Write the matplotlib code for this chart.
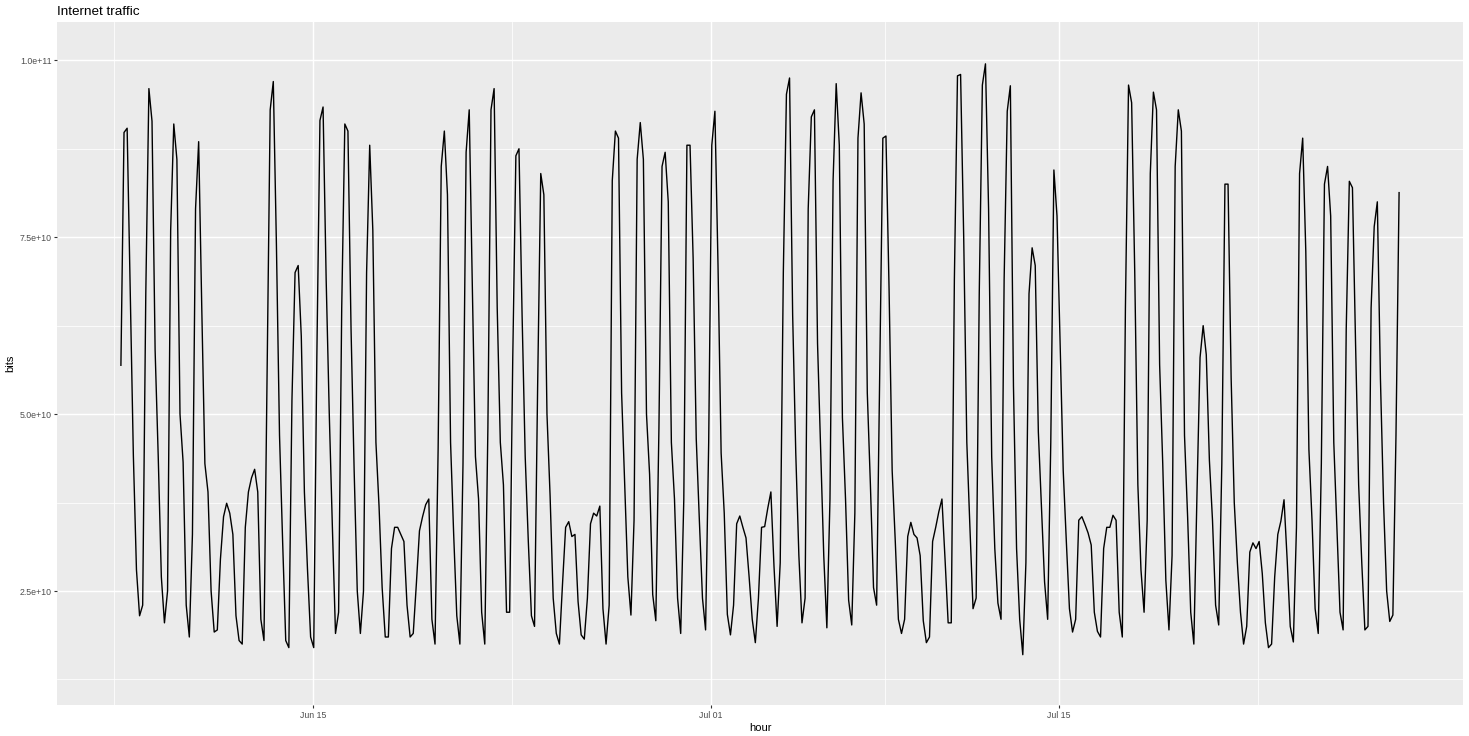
import numpy as np
import pandas as pd
import matplotlib
matplotlib.use("Agg")
import matplotlib.pyplot as plt
import matplotlib.dates as mdates
from matplotlib.ticker import FixedLocator, FuncFormatter

plt.rcParams['font.family'] = ['Liberation Sans', 'DejaVu Sans']

# traffic in units of 1e10 bits, one value every 3 hours from 2005-06-07 07:00
wk1 = [5.69, 8.98, 9.04, 6.7, 4.42, 2.8, 2.15, 2.3,
       6.7, 9.6, 9.14, 5.9, 4.4, 2.7, 2.05, 2.5,
       7.6, 9.1, 8.6, 5.0, 4.32, 2.3, 1.85, 3.3,
       7.9, 8.85, 6.5, 4.3, 3.9, 2.5, 1.92, 1.95,
       2.95, 3.55, 3.74, 3.6, 3.3, 2.15, 1.8, 1.75,
       3.4, 3.9, 4.1, 4.22, 3.9, 2.1, 1.8, 5.6,
       9.3, 9.7, 7.4, 4.7, 3.2, 1.8, 1.7, 5.2]
wk2 = [7.0, 7.1, 6.1, 3.9, 2.8, 1.85, 1.7, 5.8,
       9.15, 9.34, 6.9, 5.0, 3.4, 1.9, 2.2, 6.5,
       9.1, 9.0, 6.2, 4.2, 2.5, 1.9, 2.5, 7.0,
       8.8, 7.6, 4.6, 3.7, 2.55, 1.85, 1.85, 3.1,
       3.4, 3.4, 3.3, 3.2, 2.3, 1.85, 1.9, 2.6,
       3.35, 3.55, 3.72, 3.8, 2.1, 1.75, 4.5, 8.5,
       9.0, 8.1, 4.6, 3.3, 2.15, 1.75, 4.3, 8.7]
wk3 = [9.3, 6.8, 4.4, 3.8, 2.2, 1.75, 4.8, 9.3,
       9.6, 6.5, 4.6, 4.0, 2.2, 2.2, 5.8, 8.65,
       8.75, 6.4, 4.4, 3.2, 2.15, 2.0, 5.4, 8.4,
       8.1, 5.0, 3.85, 2.4, 1.9, 1.75, 2.6, 3.4,
       3.48, 3.27, 3.3, 2.35, 1.88, 1.82, 2.4, 3.45,
       3.6, 3.56, 3.7, 2.25, 1.75, 2.3, 8.3, 9.0,
       8.9, 5.3, 4.0, 2.7, 2.16, 3.5, 8.6, 9.12]
wk4 = [8.6, 5.0, 4.15, 2.45, 2.08, 4.8, 8.5, 8.7,
       8.0, 4.6, 3.8, 2.4, 1.9, 3.8, 8.8, 8.8,
       7.2, 4.65, 3.5, 2.4, 1.95, 4.6, 8.8, 9.28,
       7.1, 4.45, 3.6, 2.17, 1.88, 2.3, 3.45, 3.56,
       3.4, 3.25, 2.7, 2.1, 1.77, 2.4, 3.4, 3.41,
       3.67, 3.9, 2.85, 2.0, 2.9, 7.0, 9.52, 9.75,
       6.4, 4.45, 3.0, 2.05, 2.4, 7.9, 9.2, 9.3]
wk5 = [6.0, 4.5, 3.0, 1.98, 3.8, 8.3, 9.67, 8.8,
       4.95, 3.8, 2.37, 2.02, 3.6, 8.9, 9.54, 9.1,
       5.3, 4.0, 2.55, 2.3, 5.6, 8.9, 8.93, 6.77,
       4.2, 3.2, 2.1, 1.9, 2.1, 3.27, 3.47, 3.3,
       3.25, 3.0, 2.08, 1.77, 1.85, 3.2, 3.4, 3.62,
       3.8, 2.95, 2.05, 2.05, 6.9, 9.78, 9.8, 7.5,
       4.6, 3.4, 2.25, 2.4, 6.7, 9.65, 9.95, 7.9]
wk6 = [4.4, 3.1, 2.33, 2.1, 6.9, 9.28, 9.64, 5.4,
       3.1, 2.1, 1.6, 2.9, 6.7, 7.35, 7.1, 4.75,
       3.7, 2.63, 2.1, 4.6, 8.45, 7.8, 6.0, 4.2,
       3.2, 2.25, 1.92, 2.1, 3.5, 3.55, 3.44, 3.32,
       3.15, 2.2, 1.93, 1.85, 3.1, 3.4, 3.4, 3.57,
       3.5, 2.2, 1.85, 6.5, 9.65, 9.4, 7.0, 4.0,
       2.8, 2.2, 3.5, 8.4, 9.55, 9.3, 5.7, 4.3]
wk7 = [2.65, 1.95, 3.0, 8.5, 9.3, 9.0, 4.7, 3.55,
       2.2, 1.75, 3.85, 5.8, 6.25, 5.84, 4.35, 3.5,
       2.3, 2.02, 4.3, 8.25, 8.25, 5.5, 3.75, 2.9,
       2.2, 1.75, 2.0, 3.05, 3.18, 3.1, 3.2, 2.75,
       2.05, 1.7, 1.75, 2.7, 3.3, 3.49, 3.79, 2.95,
       2.0, 1.78, 3.4, 8.4, 8.9, 7.3, 4.5, 3.5,
       2.25, 1.9, 4.3, 8.25, 8.5, 7.8, 4.6, 3.4]
wk8 = [2.2, 1.95, 6.2, 8.29, 8.2, 6.0, 4.0, 2.9,
       1.95, 2.0, 6.5, 7.65, 8.0, 5.5, 3.75, 2.5,
       2.07, 2.16, 4.7, 8.13]

bits = np.array(wk1 + wk2 + wk3 + wk4 + wk5 + wk6 + wk7 + wk8) * 1e10
hour = pd.date_range("2005-06-07 07:00", periods=len(bits), freq="3h")

date_ticks = pd.to_datetime(["2005-06-15", "2005-07-01", "2005-07-15"])
date_minor = pd.to_datetime(["2005-06-07", "2005-06-23", "2005-07-08", "2005-07-23"])
bit_ticks = [2.5e10, 5.0e10, 7.5e10, 1.0e11]
bit_minor = [1.25e10, 3.75e10, 6.25e10, 8.75e10]

W, H = 1469, 736
fig = plt.figure(figsize=(W / 100, H / 100), dpi=100)
ax = fig.add_axes([57 / W, 1 - 705 / H, (1463 - 57) / W, (705 - 22.3) / H])
ax.set_facecolor("#EBEBEB")

ax.plot(hour, bits, color="black", lw=1.0)

# ggplot style 5% padding on x
pad = (hour[-1] - hour[0]) * 0.05
ax.set_xlim(hour[0] - pad, hour[-1] + pad)
ax.set_ylim(0.889e10, 10.537e10)

ax.xaxis.set_major_locator(FixedLocator(mdates.date2num(date_ticks)))
ax.xaxis.set_minor_locator(FixedLocator(mdates.date2num(date_minor)))
ax.xaxis.set_major_formatter(mdates.DateFormatter("%b %d"))
ax.yaxis.set_major_locator(FixedLocator(bit_ticks))
ax.yaxis.set_minor_locator(FixedLocator(bit_minor))
ax.yaxis.set_major_formatter(FuncFormatter(lambda v, _: f"{v:.1e}"))

ax.grid(which="major", color="white", lw=1.05)
ax.grid(which="minor", color="white", lw=0.55)
ax.set_axisbelow(True)
for s in ax.spines.values():
    s.set_visible(False)

ax.tick_params(which="major", length=2.4, width=0.8, color="#333333",
               labelsize=6.3, labelcolor="#4D4D4D", pad=1.6)
ax.tick_params(which="minor", length=0)

ax.set_xlabel("hour", fontsize=8, color="black")
ax.set_ylabel("bits", fontsize=8, color="black")
ax.xaxis.set_label_coords(0.5, -0.034)
ax.yaxis.set_label_coords(-0.0334, 0.5)
ax.xaxis.label.set_va("center")
ax.yaxis.label.set_va("center")

fig.text(57 / W, 1 - 15 / H, "Internet traffic", fontsize=9.7,
         ha="left", va="baseline")

fig.savefig("out.png", dpi=100)
